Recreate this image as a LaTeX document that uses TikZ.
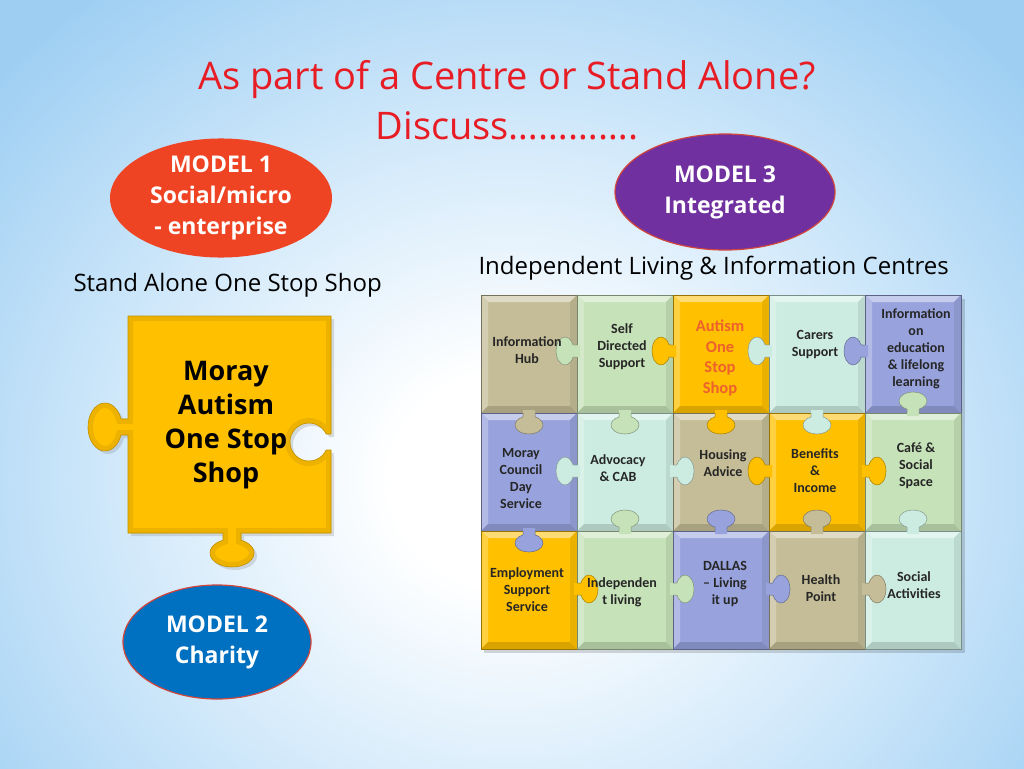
\documentclass[tikz,border=0pt]{standalone}
\usepackage{fontspec}
\setmainfont{Open Sans}
\newfontfamily\cellfont{Carlito}
\usetikzlibrary{positioning, calc, shadows, shapes.geometric}

\definecolor{bgblue}{RGB}{158,207,243}
\definecolor{bglight}{RGB}{208,232,250}
\definecolor{titlered}{RGB}{232,28,36}
\definecolor{tanc}{RGB}{196,189,151}
\definecolor{greenc}{RGB}{198,226,184}
\definecolor{goldc}{RGB}{255,192,0}
\definecolor{cyanc}{RGB}{204,236,226}
\definecolor{lavc}{RGB}{152,163,221}
\definecolor{modelred}{RGB}{238,68,36}
\definecolor{modelpurple}{RGB}{112,48,160}
\definecolor{modelblue}{RGB}{0,112,192}
\definecolor{rimred}{RGB}{210,70,60}
\definecolor{autismtext}{RGB}{238,96,44}

\pgfdeclareradialshading{bgshade}{\pgfpoint{0bp}{0bp}}{%
  color(0bp)=(white); color(3bp)=(white); color(10bp)=(bglight); color(17bp)=(bgblue); color(50bp)=(bgblue)}

% contorno da peca grande
\newcommand{\piecepath}{%
  (128,316) -- (331,316) -- (331,434) -- (326.2,434)
  arc[start angle=-24.9, end angle=-335.1, radius=19] -- (331,450) -- (331,533)
  -- (241,533) -- (241,540.2)
  arc[start angle=-65.9, end angle=245.9, x radius=22, y radius=14] -- (223,533) -- (128,533)
  -- (128,435) -- (121,435)
  arc[start angle=19.5, end angle=340.5, x radius=17, y radius=24] -- (128,419) -- cycle}

% tab of a small puzzle piece: x, y of the edge, direction, colour
\newcommand{\knob}[4]{%
  \fill[#4, shift={(#1,#2)}, rotate=#3]
    (-3,-6) -- (3.9,-6) arc[start angle=-154.6, end angle=154.6, x radius=9, y radius=14] -- (-3,6) -- cycle;
  \draw[#4!65!black, line width=0.5, shift={(#1,#2)}, rotate=#3]
    (0,-6) -- (3.9,-6) arc[start angle=-154.6, end angle=154.6, x radius=9, y radius=14] -- (0,6);
}

% bevel of a cell: node name, colour
\newcommand{\bevel}[2]{%
  \fill[#2!55!white] (#1.north west) -- (#1.north east) -- ([shift={(-7,7)}]#1.north east) -- ([shift={(7,7)}]#1.north west) -- cycle;
  \fill[#2!75!white] (#1.north west) -- ([shift={(7,7)}]#1.north west) -- ([shift={(7,-7)}]#1.south west) -- (#1.south west) -- cycle;
  \fill[#2!85!black] (#1.south west) -- ([shift={(7,-7)}]#1.south west) -- ([shift={(-7,-7)}]#1.south east) -- (#1.south east) -- cycle;
  \fill[#2!92!black] (#1.north east) -- (#1.south east) -- ([shift={(-7,-7)}]#1.south east) -- ([shift={(-7,7)}]#1.north east) -- cycle;
  \draw[#2!60!black, line width=0.5] (#1.north west) rectangle (#1.south east);
}

\begin{document}
\begin{tikzpicture}[
    x=1pt, y=-1pt,
    % Estilos
    titletext/.style={text=titlered, align=center, font=\fontsize{38}{50}\selectfont},
    label/.style={text=black, font=\fontsize{24}{29}\selectfont, anchor=west},
    model/.style={ellipse, text=white, align=center, inner sep=0pt,
        font=\bfseries\fontsize{23}{31}\selectfont},
    cellbox/.style={rectangle, minimum width=96, minimum height=118, inner sep=0pt, outer sep=0pt},
    celltext/.style={align=center, text=black!85, font=\cellfont\bfseries\fontsize{14}{17}\selectfont},
    bigtext/.style={align=center, text=black, font=\bfseries\fontsize{27}{34}\selectfont}
]

    % --- FUNDO ---
    \useasboundingbox (0,0) rectangle (1024,768);
    \fill[bgblue] (0,0) rectangle (1024,768);
    \begin{scope}
        \clip (0,0) rectangle (1024,768);
        \shade[shading=bgshade] (510,480) ellipse (1000 and 900);
    \end{scope}

    % --- TITULO ---
    \node[titletext] (title) at (507,100) {As part of a Centre or Stand Alone?\\Discuss………….};

    % --- MODELOS ---
    \node[model, fill=modelred, minimum width=222, minimum height=114] (m1) at (221,198) {MODEL 1\\Social/micro\\- enterprise};
    \node[model, fill=modelpurple, draw=rimred, line width=1.2, minimum width=220, minimum height=116] (m3) at (725,192) {MODEL 3\\Integrated};
    \node[model, fill=modelblue, draw=rimred, line width=1.2, minimum width=188, minimum height=114] (m2) at (217,642) {MODEL 2\\Charity};

    \node[label] (standalone) at (70,285) {Stand Alone One Stop Shop};
    \node[label] (centres) at (475,268) {Independent Living \& Information Centres};

    % --- PECA GRANDE ---
    \fill[goldc, drop shadow={opacity=0.25, shadow xshift=3pt, shadow yshift=-3pt}] \piecepath;
    \begin{scope}
        \clip \piecepath;
        \draw[goldc!93!black, line width=10] \piecepath;
    \end{scope}
    \draw[goldc!75!black, line width=0.6] \piecepath;
    \node[bigtext] (mos) at (226,425) {Moray\\Autism\\One Stop\\Shop};

    % --- GRADE DE PECAS ---
    \fill[black, opacity=0.15] (484,299) rectangle (965,653);

    % Linha 1
    \node[cellbox, fill=tanc] (c11) at (529,354) {};
    \node[cellbox, fill=greenc] (c12) at (625,354) {};
    \node[cellbox, fill=goldc] (c13) at (721,354) {};
    \node[cellbox, fill=cyanc] (c14) at (817,354) {};
    \node[cellbox, fill=lavc] (c15) at (913,354) {};
    % Linha 2
    \node[cellbox, fill=lavc] (c21) at (529,472) {};
    \node[cellbox, fill=cyanc] (c22) at (625,472) {};
    \node[cellbox, fill=tanc] (c23) at (721,472) {};
    \node[cellbox, fill=goldc] (c24) at (817,472) {};
    \node[cellbox, fill=greenc] (c25) at (913,472) {};
    % Linha 3
    \node[cellbox, fill=goldc] (c31) at (529,590) {};
    \node[cellbox, fill=greenc] (c32) at (625,590) {};
    \node[cellbox, fill=lavc] (c33) at (721,590) {};
    \node[cellbox, fill=tanc] (c34) at (817,590) {};
    \node[cellbox, fill=cyanc] (c35) at (913,590) {};

    \bevel{c11}{tanc} \bevel{c12}{greenc} \bevel{c13}{goldc} \bevel{c14}{cyanc} \bevel{c15}{lavc}
    \bevel{c21}{lavc} \bevel{c22}{cyanc} \bevel{c23}{tanc} \bevel{c24}{goldc} \bevel{c25}{greenc}
    \bevel{c31}{goldc} \bevel{c32}{greenc} \bevel{c33}{lavc} \bevel{c34}{tanc} \bevel{c35}{cyanc}

    % Encaixes (borda x, borda y, direcao, cor)
    \knob{577}{351}{180}{greenc} \knob{673}{351}{180}{goldc} \knob{769}{351}{180}{cyanc} \knob{865}{351}{180}{lavc}
    \knob{913}{413}{90}{greenc}
    \knob{529}{413}{-90}{tanc} \knob{625}{413}{-90}{greenc} \knob{721}{413}{-90}{goldc} \knob{817}{413}{-90}{cyanc}
    \knob{577}{471}{180}{cyanc} \knob{673}{471}{0}{cyanc} \knob{769}{471}{180}{goldc} \knob{865}{471}{0}{goldc}
    \knob{529}{531}{-90}{lavc}
    \knob{625}{531}{90}{greenc} \knob{721}{531}{90}{lavc} \knob{817}{531}{90}{tanc} \knob{913}{531}{90}{cyanc}
    \knob{577}{589}{0}{goldc} \knob{673}{589}{0}{greenc} \knob{769}{589}{0}{lavc} \knob{865}{589}{0}{tanc}

    % Textos
    \node[celltext] (hub) at (527,350) {Information\\Hub};
    \node[celltext] (sds) at (622,347) {Self\\Directed\\Support};
    \node[celltext, text=autismtext, font=\cellfont\bfseries\fontsize{16.5}{20.5}\selectfont] (aoss) at (720,358) {Autism\\One\\Stop\\Shop};
    \node[celltext] (carers) at (815,345) {Carers\\Support};
    \node[celltext] (info) at (916,349) {Information\\on\\education\\\& lifelong\\learning};
    \node[celltext] (mcds) at (521,479) {Moray\\Council\\Day\\Service};
    \node[celltext] (cab) at (618,468) {Advocacy\\\& CAB};
    \node[celltext] (housing) at (723,463) {Housing\\Advice};
    \node[celltext] (benefits) at (815,471) {Benefits\\\&\\Income};
    \node[celltext] (cafe) at (916,466) {Café \&\\Social\\Space};
    \node[celltext] (employ) at (527,590) {Employment\\Support\\Service};
    \node[celltext] (indep) at (622,592) {Independen\\t living};
    \node[celltext] (dallas) at (725,584) {DALLAS\\– Living\\it up};
    \node[celltext] (health) at (821,588) {Health\\Point};
    \node[celltext] (social) at (914,585) {Social\\Activities};

\end{tikzpicture}
\end{document}
